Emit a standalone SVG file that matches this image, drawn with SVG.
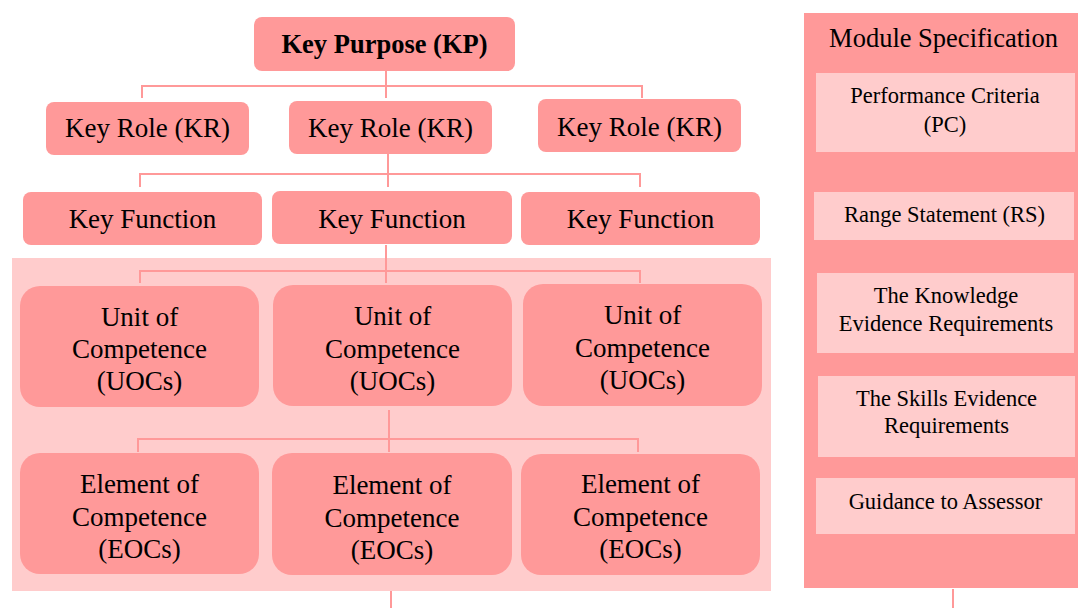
<svg xmlns="http://www.w3.org/2000/svg" width="1078" height="608" viewBox="0 0 1078 608">
<style>
.n{fill:#FF9999}
.lt{fill:#FFCCCC}
text{font-family:'Liberation Serif','Times New Roman',serif;fill:#000;text-anchor:middle}
.t{font-size:27px}
.b{font-weight:bold;font-size:26.5px}
.s{font-size:22.5px}
.c{fill:none;stroke:#FF9999;stroke-width:2}
</style>
<rect id="competence-area" class="lt" x="12" y="258" width="759" height="333"/>
<g id="connectors">
<path class="c" d="M386 71V98M142 98V86H642V98"/>
<path class="c" d="M388 154V187M140 187V174H640V187"/>
<path class="c" d="M386 245V283M140 283V271H640V283"/>
<path class="c" d="M389 410V452M138 452V439H638V452"/>
<path class="c" d="M391 591V608"/>
<path class="c" d="M953 589V608"/>
</g>
<g id="kp"><rect class="n" x="254" y="17" width="261" height="54" rx="8"/><text class="t b" x="384.5" y="53">Key Purpose (KP)</text></g>
<g id="kr1"><rect class="n" x="46" y="102" width="203" height="53" rx="8"/><text class="t" x="147.5" y="137">Key Role (KR)</text></g>
<g id="kr2"><rect class="n" x="289" y="101" width="203" height="53" rx="8"/><text class="t" x="390.5" y="137">Key Role (KR)</text></g>
<g id="kr3"><rect class="n" x="538" y="99" width="203" height="53" rx="8"/><text class="t" x="639.5" y="136">Key Role (KR)</text></g>
<g id="kf1"><rect class="n" x="23" y="192" width="239" height="53" rx="8"/><text class="t" x="142.5" y="228">Key Function</text></g>
<g id="kf2"><rect class="n" x="272" y="191" width="240" height="53" rx="8"/><text class="t" x="392" y="228">Key Function</text></g>
<g id="kf3"><rect class="n" x="521" y="192" width="239" height="53" rx="8"/><text class="t" x="640.5" y="228">Key Function</text></g>
<g id="uoc1"><rect class="n" x="20" y="286" width="239" height="121" rx="20"/><text class="t" x="139.5" y="326">Unit of</text><text class="t" x="139.5" y="358">Competence</text><text class="t" x="139.5" y="390">(UOCs)</text></g>
<g id="uoc2"><rect class="n" x="273" y="285" width="239" height="121" rx="20"/><text class="t" x="392.5" y="325">Unit of</text><text class="t" x="392.5" y="358">Competence</text><text class="t" x="392.5" y="390">(UOCs)</text></g>
<g id="uoc3"><rect class="n" x="523" y="284" width="239" height="122" rx="20"/><text class="t" x="642.5" y="324">Unit of</text><text class="t" x="642.5" y="357">Competence</text><text class="t" x="642.5" y="389">(UOCs)</text></g>
<g id="eoc1"><rect class="n" x="20" y="453" width="239" height="121" rx="20"/><text class="t" x="139.5" y="493">Element of</text><text class="t" x="139.5" y="526">Competence</text><text class="t" x="139.5" y="558">(EOCs)</text></g>
<g id="eoc2"><rect class="n" x="272" y="453" width="240" height="122" rx="20"/><text class="t" x="392" y="494">Element of</text><text class="t" x="392" y="527">Competence</text><text class="t" x="392" y="559">(EOCs)</text></g>
<g id="eoc3"><rect class="n" x="521" y="454" width="239" height="121" rx="20"/><text class="t" x="640.5" y="493">Element of</text><text class="t" x="640.5" y="526">Competence</text><text class="t" x="640.5" y="558">(EOCs)</text></g>
<g id="module-spec">
<rect class="n" x="804" y="13" width="280" height="575"/>
<text class="t" x="943.5" y="47" style="font-size:26.5px">Module Specification</text>
</g>
<g id="pc"><rect class="lt" x="816" y="73" width="259" height="79"/><text class="s" x="945" y="103">Performance Criteria</text><text class="s" x="945" y="132">(PC)</text></g>
<g id="rs"><rect class="lt" x="814" y="192" width="260" height="48"/><text class="s" x="944.5" y="222">Range Statement (RS)</text></g>
<g id="ker"><rect class="lt" x="817" y="273" width="257" height="80"/><text class="s" x="946" y="303">The Knowledge</text><text class="s" x="946" y="331">Evidence Requirements</text></g>
<g id="ser"><rect class="lt" x="818" y="376" width="257" height="81"/><text class="s" x="946.5" y="406">The Skills Evidence</text><text class="s" x="946.5" y="433">Requirements</text></g>
<g id="ga"><rect class="lt" x="816" y="478" width="259" height="56"/><text class="s" x="945.5" y="509">Guidance to Assessor</text></g>
</svg>
